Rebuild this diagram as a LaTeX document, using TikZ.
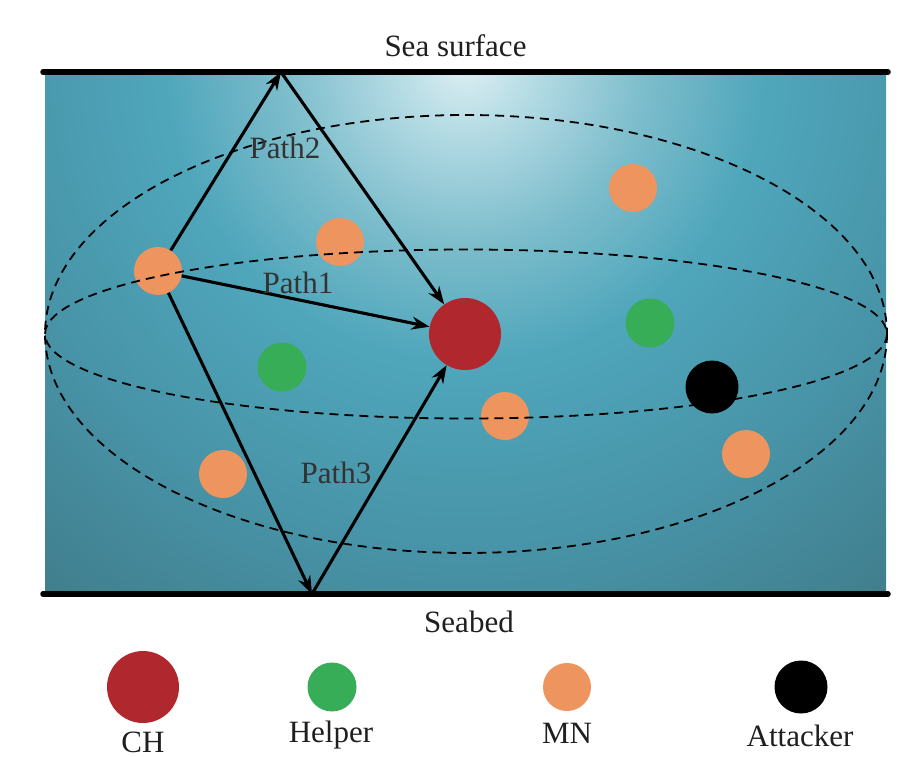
\documentclass[tikz,border=0pt]{standalone}
\usepackage{fontspec}
\setmainfont{Liberation Serif}
\usetikzlibrary{arrows.meta}
\definecolor{chred}{HTML}{B1272E}
\definecolor{helpgreen}{HTML}{37AD58}
\definecolor{mnorange}{HTML}{EE945E}
\definecolor{seaA}{HTML}{DDEFF3}
\definecolor{seaB}{HTML}{B2DAE3}
\definecolor{seaC}{HTML}{7DBDCC}
\definecolor{seaD}{HTML}{4FA6BB}
\definecolor{seaE}{HTML}{4894A8}
\definecolor{seaF}{HTML}{41808F}
\definecolor{seaG}{HTML}{3D7485}
\definecolor{labelgray}{HTML}{333333}
\pgfdeclareradialshading{seashade}{\pgfpoint{0bp}{0bp}}{color(0bp)=(seaA); color(2.5bp)=(seaB); color(6bp)=(seaC); color(10bp)=(seaD); color(16bp)=(seaE); color(22bp)=(seaF); color(25bp)=(seaG); color(50bp)=(seaG)}
\tikzset{
  ball/.style={circle, inner sep=0pt, minimum size=#1},
  mn/.style={ball=48pt, fill=mnorange},
  helper/.style={ball=49pt, fill=helpgreen},
  ch/.style={ball=72pt, fill=chred},
  atk/.style={ball=53pt, fill=black},
  sealine/.style={line width=5.5pt, line cap=round},
  orbit/.style={dash pattern=on 9pt off 6pt, line width=1.8pt},
  patharrow/.style={line width=3.1pt, -{Stealth[length=18pt,width=13pt]}},
  txt/.style={font=\fontsize{31}{36}\selectfont, anchor=base, inner sep=0pt},
  plbl/.style={txt, text=labelgray},
}
\begin{document}
\begin{tikzpicture}[x=1pt,y=-1pt]
\useasboundingbox (0,0) rectangle (921,757);
% water
\begin{scope}
  \clip (45,72) rectangle (886,594);
  \shade[shading=seashade] (465,62) circle [radius=750];
\end{scope}
% surface and seabed
\draw[sealine] (43,72) -- (888,72);
\draw[sealine] (43,594) -- (888,594);
\node[txt, text=black!88] (sea) at (455.5,57) {Sea surface};
\node[txt, text=black!88] (bed) at (469,632) {Seabed};
% nodes
\node[mn] (m1) at (158,271) {};
\node[mn] (m2) at (340,242) {};
\node[mn] (m3) at (633,188) {};
\node[mn] (m4) at (505,416) {};
\node[mn] (m5) at (223,474) {};
\node[mn] (m6) at (746,454) {};
\node[ch] (ch) at (465,334) {};
\node[helper] (h1) at (650,323) {};
\node[helper] (h2) at (282,367) {};
\node[atk] (atk) at (712,387) {};
% dashed ellipses
\draw[orbit] (466,334) ellipse [x radius=421, y radius=219];
\draw[orbit] (466,334) ellipse [x radius=421, y radius=84.5];
% reflection points
\coordinate (top) at (281,72);
\coordinate (bot) at (312,594);
% paths
\draw[patharrow] (m1) -- (top);
\draw[patharrow] (top) -- (ch);
\draw[patharrow] (m1) -- (ch);
\draw[patharrow] (m1) -- (bot);
\draw[patharrow] (bot) -- (ch);
\node[plbl] (p2) at (285,158) {Path2};
\node[plbl] (p1) at (298,293) {Path1};
\node[plbl] (p3) at (336,483) {Path3};
% legend
\node[ch] (lch) at (143,687) {};
\node[helper] (lh) at (332,687) {};
\node[mn] (lmn) at (567,687) {};
\node[atk] (la) at (801,687) {};
\node[txt, text=black!88] (tch) at (143,752) {CH};
\node[txt, text=black!88] (th) at (331,742) {Helper};
\node[txt, text=black!88] (tmn) at (567,743) {MN};
\node[txt, text=black!88] (ta) at (800,746) {Attacker};
\end{tikzpicture}
\end{document}
